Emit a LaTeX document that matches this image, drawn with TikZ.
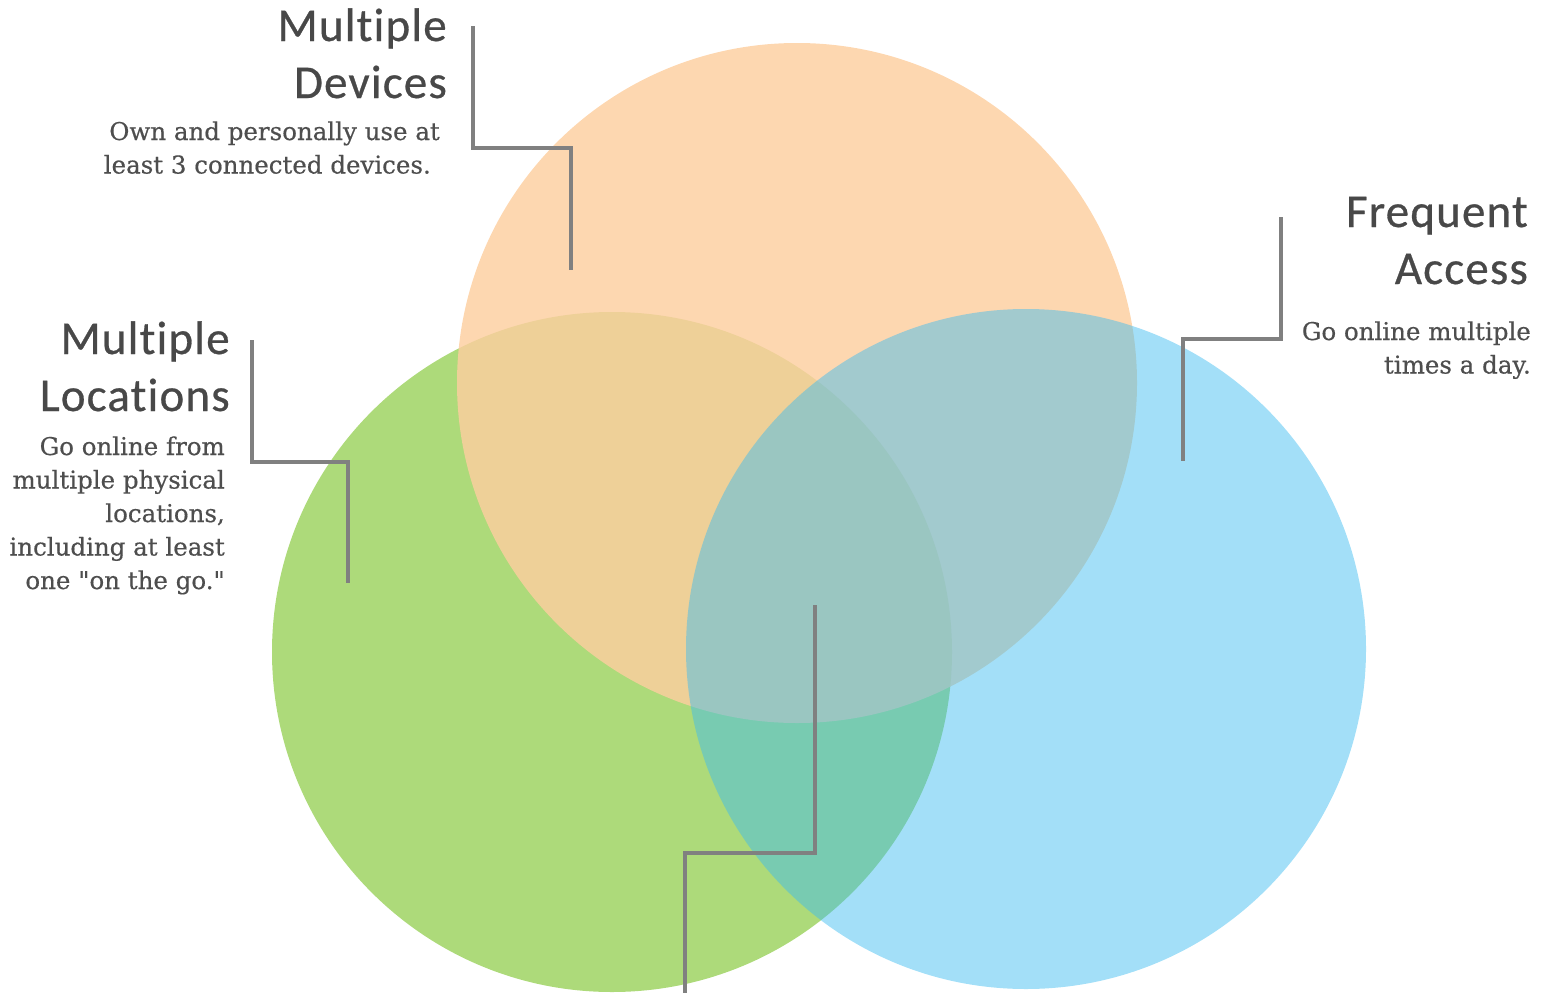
\documentclass[tikz,border=0pt]{standalone}
\usepackage{fontspec}
\newfontfamily\titlefont[LetterSpace=2.5,Ligatures={NoCommon,NoRare},FakeBold=0.6]{Carlito}
\newfontfamily\bodyfont[FakeBold=0.5]{DejaVu Serif}
\definecolor{cgreen}{RGB}{173,218,122}
\definecolor{corange}{RGB}{253,206,159}
\definecolor{cblue}{RGB}{62,188,240}
\definecolor{titlegray}{RGB}{72,72,72}
\definecolor{bodygray}{RGB}{78,78,78}
\definecolor{leadgray}{RGB}{128,128,128}
\tikzset{
  venn/.style={circle, inner sep=0pt, minimum size=680pt, draw=none},
  titletext/.style={inner sep=0pt, anchor=base east, text=titlegray,
    font=\titlefont\fontsize{47}{57}\selectfont},
  bodytext/.style={inner sep=0pt, anchor=base east, text=bodygray,
    font=\bodyfont\fontsize{24.5}{33.5}\selectfont},
  leader/.style={draw=leadgray, line width=4.2pt, line join=miter, line cap=butt}
}
\begin{document}
\begin{tikzpicture}[x=1pt,y=-1pt]
\useasboundingbox (0,0) rectangle (1544,993);
% circles
\node[venn, fill=cgreen] (loc) at (612,652) {};
\node[venn, fill=corange, fill opacity=0.82] (dev) at (797,383) {};
\node[venn, fill=cblue, fill opacity=0.476] (acc) at (1026,649) {};
% titles
\node[titletext] (devT) at (447,41) {\begin{tabular}[t]{@{}r@{}}Multiple\\Devices\end{tabular}};
\node[bodytext] (devB) at (440,140) {\begin{tabular}[t]{@{}r@{}}Own and personally use at\\least 3 connected devices.\hspace*{9pt}\end{tabular}};
\node[titletext] (locT) at (230,354) {\begin{tabular}[t]{@{}r@{}}Multiple\\Locations\end{tabular}};
\node[bodytext] (locB) at (225,455) {\begin{tabular}[t]{@{}r@{}}Go online from\\multiple physical\\locations,\\including at least\\one "on the go."\end{tabular}};
\node[titletext] (accT) at (1528,227) {\begin{tabular}[t]{@{}r@{}}Frequent\\Access\end{tabular}};
\node[bodytext] (accB) at (1531,340) {\begin{tabular}[t]{@{}r@{}}Go online multiple\\times a day.\end{tabular}};
% leader lines
\coordinate (d1) at (473,26);
\coordinate (d2) at (473,148);
\coordinate (d3) at (571,148);
\coordinate (d4) at (571,270);
\draw[leader] (d1) -- (d2) -- (d3) -- (d4);
\coordinate (a1) at (1281,217);
\coordinate (a2) at (1281,339);
\coordinate (a3) at (1183,339);
\coordinate (a4) at (1183,461);
\draw[leader] (a1) -- (a2) -- (a3) -- (a4);
\coordinate (l1) at (252,340);
\coordinate (l2) at (252,462);
\coordinate (l3) at (348,462);
\coordinate (l4) at (348,583);
\draw[leader] (l1) -- (l2) -- (l3) -- (l4);
\coordinate (c1) at (815,605);
\coordinate (c2) at (815,853);
\coordinate (c3) at (685,853);
\coordinate (c4) at (685,993);
\draw[leader] (c1) -- (c2) -- (c3) -- (c4);
\end{tikzpicture}
\end{document}
